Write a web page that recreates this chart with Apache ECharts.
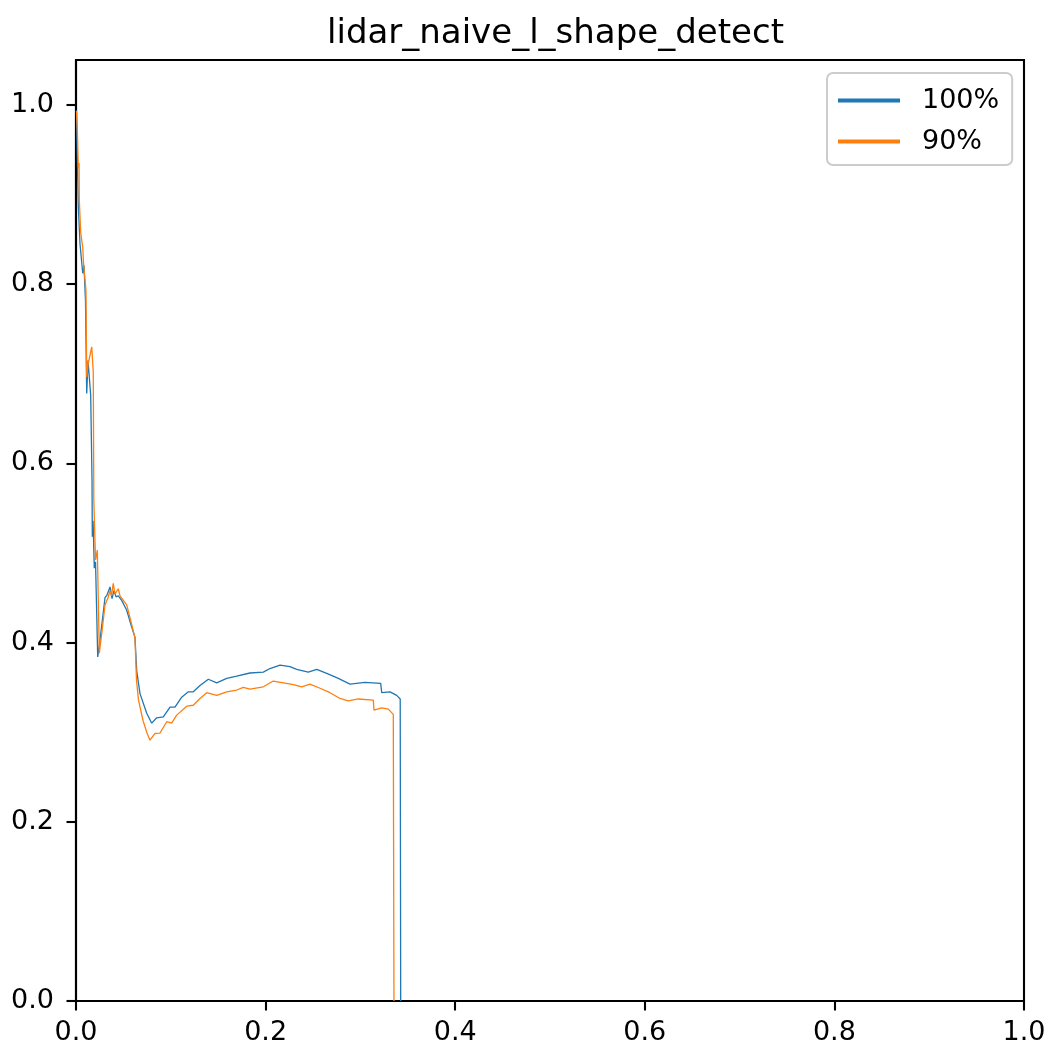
<!DOCTYPE html>
<html>
<head>
<meta charset="utf-8">
<script src="https://cdn.jsdelivr.net/npm/echarts@6/dist/echarts.min.js"></script>
<style>
html,body{margin:0;padding:0;background:#fff;}
#chart{width:1052px;height:1051px;}
</style>
</head>
<body>
<div id="chart"></div>
<script>
const titleText = 'lidar_naive_l_shape_detect';
const seriesNames = ['100%', '90%'];
const yTicks = [0, 0.2, 0.4, 0.6, 0.8, 1.0];
const xTicks = [0, 0.2, 0.4, 0.6, 0.8, 1.0];

const x100 = [0.0005,0.0014,0.0024,0.0042,0.0071,0.0084,0.0100,0.0113,0.0127,0.0140,0.0155,0.0169,0.0172,0.0180,0.0193,0.0206,0.0229,0.0253,0.0306,0.0327,0.0359,0.0380,0.0400,0.0422,0.0446,0.0482,0.0535,0.0588,0.0622,0.0640,0.0675,0.0746,0.0799,0.0851,0.0921,0.0992,0.1044,0.1115,0.1185,0.1237,0.1308,0.1396,0.1484,0.1590,0.1695,0.1835,0.1976,0.2046,0.2152,0.2257,0.2328,0.2450,0.2539,0.2645,0.2767,0.2890,0.3049,0.3214,0.3225,0.3312,0.3383,0.3420,0.3425];
const y100 = [0.994,0.942,0.888,0.845,0.812,0.821,0.782,0.678,0.715,0.717,0.676,0.581,0.518,0.536,0.483,0.490,0.384,0.403,0.450,0.453,0.462,0.449,0.458,0.451,0.452,0.447,0.436,0.417,0.406,0.369,0.343,0.321,0.310,0.316,0.317,0.328,0.328,0.339,0.345,0.345,0.352,0.359,0.355,0.360,0.3625,0.366,0.367,0.371,0.3748,0.373,0.370,0.367,0.370,0.3655,0.360,0.3536,0.3555,0.3544,0.344,0.345,0.341,0.337,0.0];

const x90 = [0.0005,0.0014,0.0024,0.0032,0.0035,0.0050,0.0071,0.0079,0.0095,0.0105,0.0113,0.0127,0.0166,0.0182,0.0188,0.0193,0.0206,0.0225,0.0246,0.0274,0.0306,0.0338,0.0359,0.0374,0.0393,0.0411,0.0446,0.0464,0.0482,0.0535,0.0588,0.0622,0.0638,0.0659,0.0707,0.0749,0.0780,0.0833,0.0886,0.0957,0.1009,0.1062,0.1168,0.1237,0.1308,0.1379,0.1484,0.1590,0.1695,0.1765,0.1835,0.1976,0.2081,0.2187,0.2292,0.2381,0.2468,0.2574,0.2679,0.2785,0.2872,0.2978,0.3136,0.3143,0.3225,0.3294,0.3347,0.3354];
const y90 = [0.993,0.972,0.930,0.935,0.893,0.857,0.841,0.824,0.826,0.793,0.696,0.710,0.730,0.702,0.559,0.540,0.492,0.503,0.388,0.412,0.442,0.450,0.458,0.452,0.466,0.454,0.460,0.452,0.450,0.442,0.420,0.405,0.358,0.336,0.313,0.299,0.291,0.2986,0.299,0.3116,0.310,0.319,0.329,0.330,0.3376,0.344,0.341,0.345,0.347,0.350,0.348,0.3506,0.357,0.355,0.353,0.3506,0.3536,0.349,0.344,0.3376,0.335,0.337,0.3357,0.3246,0.327,0.3257,0.3198,0.0];

const pairs = (xs, ys) => xs.map((x, i) => [x, ys[i]]);
const colors = ['#1f77b4', '#ff7f0e'];
const FONT = 'DejaVu Sans';

const chart = echarts.init(document.getElementById('chart'), null, {renderer: 'canvas'});
chart.setOption({
  animation: false,
  backgroundColor: '#ffffff',
  title: {
    text: titleText, left: 322, top: 12,
    textStyle: {fontFamily: FONT, fontSize: 34, fontWeight: 'normal', color: '#000'}
  },
  legend: {
    orient: 'vertical', left: 827, top: 73,
    padding: [14, 13, 10, 9],
    itemGap: 14,
    itemWidth: 62, itemHeight: 14,
    lineStyle: {width: 4},
    itemStyle: {opacity: 0},
    backgroundColor: '#fff',
    borderColor: '#cccccc', borderWidth: 2, borderRadius: 6,
    textStyle: {fontFamily: FONT, fontSize: 27, color: '#000', padding: [0, 0, 0, 17]},
    data: seriesNames
  },
  grid: {
    left: 76, right: 28, top: 60, bottom: 50,
    show: true, borderColor: '#000', borderWidth: 2.1, backgroundColor: 'transparent'
  },
  xAxis: {
    type: 'value', min: 0, max: 1, interval: 0.2,
    axisLine: {show: true, lineStyle: {color: '#000', width: 2.1}},
    axisTick: {show: true, inside: false, length: 9.5, lineStyle: {color: '#000', width: 2.1}},
    axisLabel: {fontFamily: FONT, fontSize: 27, color: '#000', margin: 18,
      formatter: v => xTicks.some(t => Math.abs(t - v) < 1e-9) ? v.toFixed(1) : ''},
    splitLine: {show: false}
  },
  yAxis: {
    type: 'value', min: 0, max: 1.05, interval: 0.2,
    axisLine: {show: true, lineStyle: {color: '#000', width: 2.1}},
    axisTick: {show: true, inside: false, length: 9.5, lineStyle: {color: '#000', width: 2.1}},
    axisLabel: {fontFamily: FONT, fontSize: 27, color: '#000', margin: 22, showMaxLabel: false,
      formatter: v => yTicks.some(t => Math.abs(t - v) < 1e-9) ? v.toFixed(1) : ''},
    splitLine: {show: false}
  },
  series: [
    {name: seriesNames[0], type: 'line', data: pairs(x100, y100), symbol: 'none',
     color: colors[0], lineStyle: {color: colors[0], width: 1.3}},
    {name: seriesNames[1], type: 'line', data: pairs(x90, y90), symbol: 'none',
     color: colors[1], lineStyle: {color: colors[1], width: 1.3}}
  ]
});
</script>
</body>
</html>
